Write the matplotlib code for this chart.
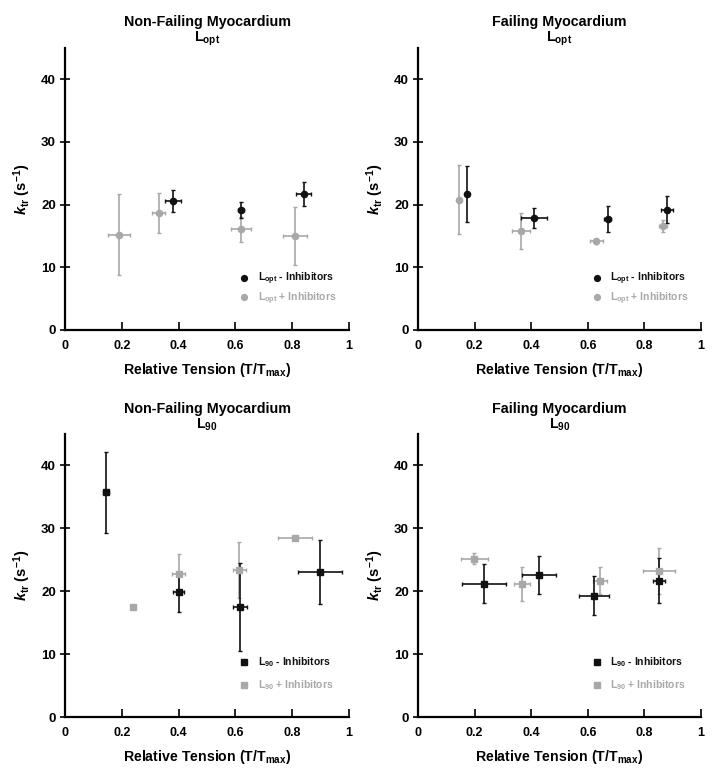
import matplotlib
matplotlib.use('Agg')
import matplotlib.pyplot as plt
from matplotlib.lines import Line2D

plt.rcParams['font.family'] = ['Liberation Sans', 'DejaVu Sans']
plt.rcParams['font.weight'] = 'bold'
plt.rcParams['mathtext.fontset'] = 'custom'
plt.rcParams['mathtext.rm'] = 'Liberation Sans:bold'
plt.rcParams['mathtext.it'] = 'Liberation Sans:bold:italic'
plt.rcParams['mathtext.bf'] = 'Liberation Sans:bold'

# --- data: (x, xerr, y, yerr) ---
# Non-failing, Lopt
nf_opt_minus_x = [0.38, 0.62, 0.84]
nf_opt_minus_xerr = [0.027, 0.010, 0.027]
nf_opt_minus_y = [20.6, 19.2, 21.7]
nf_opt_minus_yerr = [1.7, 1.3, 1.9]
nf_opt_plus_x = [0.19, 0.33, 0.62, 0.81]
nf_opt_plus_xerr = [0.040, 0.023, 0.034, 0.042]
nf_opt_plus_y = [15.2, 18.7, 16.1, 15.0]
nf_opt_plus_yerr = [6.5, 3.2, 2.0, 4.6]

# Failing, Lopt
f_opt_minus_x = [0.174, 0.41, 0.67, 0.88]
f_opt_minus_xerr = [0.0, 0.046, 0.013, 0.022]
f_opt_minus_y = [21.7, 17.8, 17.7, 19.2]
f_opt_minus_yerr = [4.5, 1.6, 2.1, 2.2]
f_opt_plus_x = [0.145, 0.364, 0.63, 0.866]
f_opt_plus_xerr = [0.0, 0.033, 0.022, 0.013]
f_opt_plus_y = [20.8, 15.8, 14.2, 16.6]
f_opt_plus_yerr = [5.5, 2.9, 0.4, 1.0]

# Non-failing, L90
nf_90_minus_x = [0.144, 0.40, 0.616, 0.898]
nf_90_minus_xerr = [0.010, 0.019, 0.026, 0.076]
nf_90_minus_y = [35.7, 19.9, 17.5, 23.1]
nf_90_minus_yerr = [6.4, 3.2, 7.0, 5.1]
nf_90_plus_x = [0.24, 0.40, 0.614, 0.81]
nf_90_plus_xerr = [0.0, 0.023, 0.024, 0.060]
nf_90_plus_y = [17.5, 22.8, 23.4, 28.5]
nf_90_plus_yerr = [0.0, 3.1, 4.5, 0.0]

# Failing, L90
f_90_minus_x = [0.233, 0.428, 0.622, 0.852]
f_90_minus_xerr = [0.078, 0.060, 0.053, 0.022]
f_90_minus_y = [21.2, 22.6, 19.3, 21.7]
f_90_minus_yerr = [3.1, 3.0, 3.1, 3.6]
f_90_plus_x = [0.199, 0.367, 0.643, 0.852]
f_90_plus_xerr = [0.047, 0.027, 0.024, 0.056]
f_90_plus_y = [25.2, 21.2, 21.7, 23.2]
f_90_plus_yerr = [0.9, 2.7, 2.2, 3.6]

panels = [
    ("Non-Failing Myocardium", "opt", "o",
     (nf_opt_minus_x, nf_opt_minus_xerr, nf_opt_minus_y, nf_opt_minus_yerr),
     (nf_opt_plus_x, nf_opt_plus_xerr, nf_opt_plus_y, nf_opt_plus_yerr)),
    ("Failing Myocardium", "opt", "o",
     (f_opt_minus_x, f_opt_minus_xerr, f_opt_minus_y, f_opt_minus_yerr),
     (f_opt_plus_x, f_opt_plus_xerr, f_opt_plus_y, f_opt_plus_yerr)),
    ("Non-Failing Myocardium", "90", "s",
     (nf_90_minus_x, nf_90_minus_xerr, nf_90_minus_y, nf_90_minus_yerr),
     (nf_90_plus_x, nf_90_plus_xerr, nf_90_plus_y, nf_90_plus_yerr)),
    ("Failing Myocardium", "90", "s",
     (f_90_minus_x, f_90_minus_xerr, f_90_minus_y, f_90_minus_yerr),
     (f_90_plus_x, f_90_plus_xerr, f_90_plus_y, f_90_plus_yerr)),
]

W, H = 714, 779
fig = plt.figure(figsize=(W / 100, H / 100), dpi=100)

# axes boxes in pixels: left, top-of-axis, right, bottom-of-axis
boxes = [(65, 48, 349, 330), (418, 48, 701, 330),
         (65, 434, 349, 717), (418, 434, 701, 717)]

dark = '#111111'
light = '#a8a8a8'

for (title, sub, mk, minus, plus), (l, t, r, b) in zip(panels, boxes):
    ax = fig.add_axes([l / W, (H - b) / H, (r - l) / W, (b - t) / H])
    lab = r'L$_{\mathrm{%s}}$' % sub
    for data, col in [(plus, light), (minus, dark)]:
        x, xe, y, ye = data
        ax.errorbar(x, y, xerr=xe, yerr=ye, fmt=mk, color=col, ecolor=col,
                    markersize=4.5, elinewidth=1.2, capsize=1.6, capthick=1.0)
    ax.set_xlim(0, 1)
    ax.set_ylim(0, 45)
    ax.set_xticks([0, 0.2, 0.4, 0.6, 0.8, 1])
    ax.set_xticklabels(['0', '0.2', '0.4', '0.6', '0.8', '1'])
    ax.set_yticks([0, 10, 20, 30, 40])
    for s in ['top', 'right']:
        ax.spines[s].set_visible(False)
    for s in ['left', 'bottom']:
        ax.spines[s].set_linewidth(1.6)
    ax.tick_params(axis='x', direction='in', length=6, width=1.2, labelsize=9, pad=7)
    ax.tick_params(axis='y', direction='inout', length=7, width=1.2, labelsize=9.5, pad=3)
    for tl in ax.get_xticklabels() + ax.get_yticklabels():
        tl.set_fontweight('bold')
    ax.set_xlabel(r'Relative Tension (T/T$_{\mathrm{max}}$)', fontsize=10.2, fontweight='bold', labelpad=7)
    ax.set_ylabel(r'$\mathit{k}_{\mathrm{tr}}$ (s$^{\mathrm{-1}}$)', fontsize=10.5, fontweight='bold', labelpad=6)
    ax.set_title(title + '\n' + lab, fontsize=10.3, fontweight='bold', pad=4, linespacing=1.05)

    handles = [Line2D([], [], marker=mk, color=dark, linestyle='none', markersize=4.2),
               Line2D([], [], marker=mk, color=light, linestyle='none', markersize=4.2)]
    labels = [lab + ' - Inhibitors', lab + ' + Inhibitors']
    if sub == 'opt':
        anchor, spacing = (0.58, 0.05), 0.3
    else:
        anchor, spacing = (0.58, 0.055), 0.85
    leg = ax.legend(handles, labels, loc='lower left', bbox_to_anchor=anchor,
                    frameon=False, handletextpad=0.8, labelspacing=spacing,
                    handlelength=1.0, prop={'weight': 'bold', 'size': 7.5})
    for txt, col in zip(leg.get_texts(), [dark, light]):
        txt.set_color(col)

fig.savefig('out.png', dpi=100)
